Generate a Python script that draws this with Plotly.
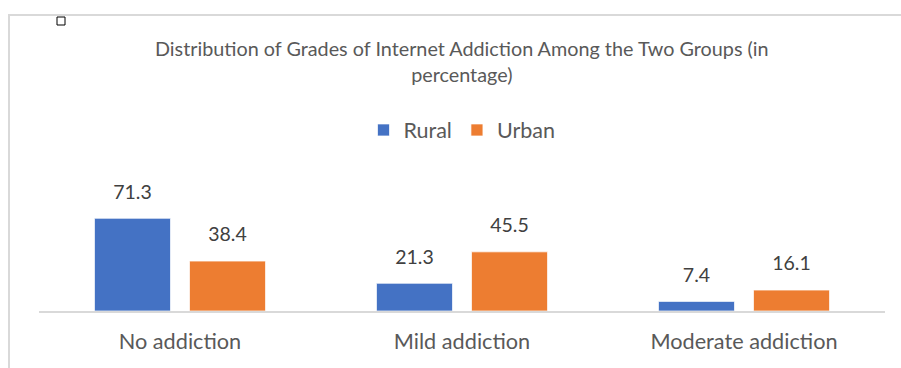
import plotly.graph_objects as go

categories = ["No addiction", "Mild addiction", "Moderate addiction"]
rural = [71.3, 21.3, 7.4]
urban = [38.4, 45.5, 16.1]
series_names = ["Rural", "Urban"]
title_text = "Distribution of Grades of Internet Addiction Among the Two Groups (in<br>percentage)"

BLUE = "#4472C4"
ORANGE = "#ED7D31"
FONT = "Lato"

fig = go.Figure()
for i, (name, vals, col) in enumerate([(series_names[0], rural, BLUE), (series_names[1], urban, ORANGE)]):
    fig.add_trace(go.Bar(
        x=categories, y=vals, name=name, offsetgroup=str(i),
        marker=dict(color=col, line=dict(color="white", width=0.7)),
    ))
for i, vals in enumerate([rural, urban]):
    fig.add_trace(go.Scatter(
        x=categories, y=vals, offsetgroup=str(i), mode="markers+text",
        marker=dict(size=22, opacity=0), showlegend=False, hoverinfo="skip",
        text=[f"{v:.1f}" for v in vals], textposition="top center",
        textfont=dict(family=FONT, size=19.5, color="#404040"),
        cliponaxis=False,
    ))

W, H = 901, 368
L, R, B, T = 39, 16, 57, 168
PH = H - T - B
fig.update_layout(
    width=W, height=H,
    margin=dict(l=L, r=R, t=T, b=B, pad=0),
    paper_bgcolor="white", plot_bgcolor="white",
    barmode="group", bargap=0.326, bargroupgap=0.2,
    scattermode="group", scattergap=0.326,
    showlegend=True,
    legend=dict(orientation="h", x=0.5, xanchor="center", xref="paper",
                y=1 - 130 / H, yref="container", yanchor="middle",
                font=dict(family=FONT, size=21.5, color="#595959"),
                itemwidth=30, traceorder="normal"),
    xaxis=dict(showline=True, linecolor="#D9D9D9", linewidth=2, ticks="",
               tickfont=dict(family=FONT, size=21.7, color="#595959"),
               ticklabelstandoff=10,
               showgrid=False, zeroline=False),
    yaxis=dict(range=[0, 110], visible=False, showgrid=False, zeroline=False),
    font=dict(family=FONT),
)

# title
fig.add_annotation(text=title_text, xref="paper", yref="paper",
                   x=0.5, y=(311 - 60.5) / PH, xanchor="center", yanchor="middle",
                   showarrow=False, align="center",
                   font=dict(family=FONT, size=19.8, color="#595959"))

# outer chart border and anchor marker (decorative)
fig.add_shape(type="rect", xref="paper", yref="paper",
              x0=(9 - L) / (W - L - R), x1=(W + 5 - L) / (W - L - R),
              y0=(311 - (H + 5)) / PH, y1=(311 - 15) / PH,
              line=dict(color="#D9D9D9", width=2), fillcolor="rgba(0,0,0,0)", layer="below")
fig.add_shape(type="rect", xref="paper", yref="paper",
              x0=(57 - L) / (W - L - R), x1=(65 - L) / (W - L - R),
              y0=(311 - 25) / PH, y1=(311 - 17) / PH,
              line=dict(color="black", width=1), fillcolor="white")

fig.write_html("out.html")
